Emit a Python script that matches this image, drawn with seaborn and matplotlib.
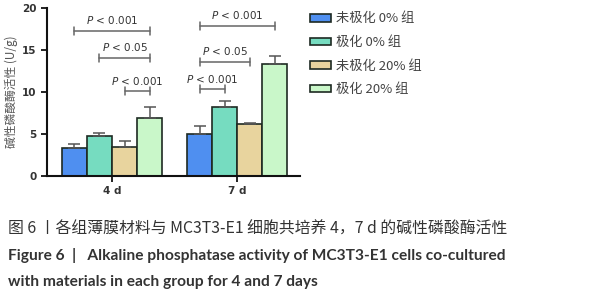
import seaborn as sns
import pandas as pd
import matplotlib.pyplot as plt

days = ["4 d", "7 d"]
groups = ["未极化 0% 组", "极化 0% 组", "未极化 20% 组", "极化 20% 组"]
means_4d = [3.35, 4.72, 3.45, 6.95]
means_7d = [4.95, 8.25, 6.2, 13.4]
sd_4d = [0.5, 0.35, 0.7, 1.3]
sd_7d = [1.0, 0.65, 0.1, 0.95]
palette = ["#4f8ff0", "#76dcc0", "#e8d49e", "#c9f7c9"]

# (day index, group a, group b, bracket height, label)
sig_pairs = [
    (0, 0, 3, 17.3, "< 0.001"),
    (0, 1, 3, 14.1, "< 0.05"),
    (0, 2, 3, 10.1, "< 0.001"),
    (1, 0, 3, 17.9, "< 0.001"),
    (1, 0, 2, 13.6, "< 0.05"),
    (1, 0, 1, 10.35, "< 0.001"),
]

df = pd.DataFrame({
    "day": days[:1] * 4 + days[1:] * 4,
    "group": groups * 2,
    "alp": means_4d + means_7d,
})

sns.set_style("ticks")
plt.rcParams["font.family"] = ["Noto Sans CJK SC", "DejaVu Sans"]

fig = plt.figure(figsize=(6, 3), dpi=100)
ax = fig.add_axes([0.078, 0.414, 0.422, 0.558])

sns.barplot(data=df, x="day", y="alp", hue="group", palette=palette, saturation=1,
            edgecolor="#1e2a22", linewidth=1.2, errorbar=None, ax=ax)

# error bars (mean + SD, upper side only)
sds = [sd_4d, sd_7d]
centers = []
bar_conts = list(ax.containers)
for gi, cont in enumerate(bar_conts):
    xs = [b.get_x() + b.get_width() / 2 for b in cont]
    ys = [b.get_height() for b in cont]
    centers.append(xs)
    up = [sds[d][gi] for d in range(len(days))]
    ax.errorbar(xs, ys, yerr=[[0] * len(xs), up], fmt="none",
                ecolor="#555555", elinewidth=1.1, capsize=4, capthick=1.1, zorder=1)

# significance brackets
for d, a, b, h, lab in sig_pairs:
    x0, x1 = centers[a][d], centers[b][d]
    ax.plot([x0, x1], [h, h], color="#666666", lw=1.1, clip_on=False)
    for xx in (x0, x1):
        ax.plot([xx, xx], [h - 0.45, h + 0.45], color="#666666", lw=1.1, clip_on=False)
    ax.text((x0 + x1) / 2, h + 0.55, "$P$ " + lab, ha="center", va="bottom",
            fontsize=7.5, color="#333333", family="DejaVu Sans")

ax.set_ylim(0, 20)
ax.set_xlim(-0.52, 1.5)
ax.set_yticks([0, 5, 10, 15, 20])
ax.set_xlabel("")
ax.set_ylabel("碱性磷酸酶活性 (U/g)", fontsize=8.5, color="#555555", labelpad=3)
for lab in ax.get_yticklabels() + ax.get_xticklabels():
    lab.set_fontweight("bold")
    lab.set_color("#333333")
    lab.set_family("DejaVu Sans")
ax.tick_params(axis="both", labelsize=7.5, width=1.3, length=4, color="#111111")
sns.despine(ax=ax)
for s in ("left", "bottom"):
    ax.spines[s].set_linewidth(1.5)
    ax.spines[s].set_color("#111111")

leg = ax.legend(loc="upper left", bbox_to_anchor=(0.497, 0.998),
                bbox_transform=fig.transFigure, frameon=False, fontsize=9.5,
                handlelength=1.6, handleheight=0.5, labelspacing=0.8,
                handletextpad=0.35)
for t in leg.get_texts():
    t.set_color("#444444")

fig.text(0.013, 0.237, "图 6 丨各组薄膜材料与 MC3T3-E1 细胞共培养 4，7 d 的碱性磷酸酶活性",
         fontsize=11.4, color="#333333", va="center", fontweight="medium")
fig.text(0.013, 0.147, "Figure 6  |   Alkaline phosphatase activity of MC3T3-E1 cells co-cultured",
         fontsize=11.2, color="#333333", va="center", family="Lato", fontweight="bold")
fig.text(0.013, 0.06, "with materials in each group for 4 and 7 days",
         fontsize=11.2, color="#333333", va="center", family="Lato", fontweight="bold")

fig.savefig("out.png", dpi=100)
